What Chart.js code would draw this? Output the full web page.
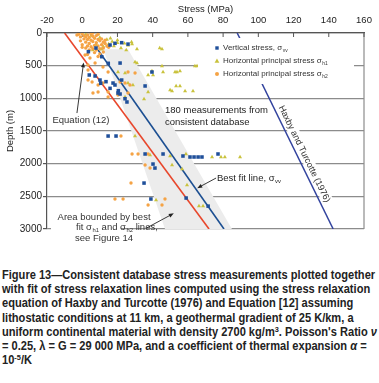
<!DOCTYPE html>
<html>
<head>
<meta charset="utf-8">
<script src="https://cdn.jsdelivr.net/npm/chart.js@4.4.0/dist/chart.umd.min.js"></script>
<style>
html{overflow:hidden;width:379px}
body{margin:0;background:#fff;width:379px;height:383px;overflow:hidden;position:relative;font-family:"Liberation Sans",Arial,sans-serif}
#wrap{position:relative;width:379px;height:265px}
#capbox{position:absolute;left:0;top:268px;width:379px;height:115px;overflow:hidden}
#caption{position:absolute;left:2px;top:0;font-weight:bold;font-size:12px;line-height:14.2px;color:#222;transform-origin:0 0;white-space:nowrap}
#caption sup{font-size:8px;line-height:0;vertical-align:4px}
</style>
</head>
<body>
<div id="wrap"><canvas id="stress_chart" width="379" height="265"></canvas></div>
<div id="capbox">
<div id="caption">
<div><span>Figure 13—Consistent database stress measurements plotted together</span></div>
<div>with fit of stress relaxation lines computed using the stress relaxation</div>
<div>equation of Haxby and Turcotte (1976) and Equation [12] assuming</div>
<div>lithostatic conditions at 11 km, a geothermal gradient of 25 K/km, a</div>
<div>uniform continental material with density 2700 kg/m<sup>3</sup>. Poisson's Ratio <i>ν</i></div>
<div>= 0.25, λ = G = 29 000 MPa, and a coefficient of thermal expansion <i>α</i> =</div>
<div>10<sup>-5</sup>/K</div>
</div>
</div>
<script>
// axis ranges and ticks
var stressTicks = [-20, 0, 20, 40, 60, 80, 100, 120, 140, 160];
var depthTicks = [0, 500, 1000, 1500, 2000, 2500, 3000];

// vertical stress measurements (MPa, m)
var vertStress = [18.6, 22.4, 26, 15.8, 7.8, 3.5, 11.1, 14.8, 21.5, 4.0, 7.3, 10.1, 13.5, 10.5, 15.8, 18.6, 20.5, 21.5, 24.3, 22.4, 17.5, 20.3, 25.4, 39.6, 35.7,
                  14.7, 19.2, 35.7, 45.9, 57.2, 61.2, 63.5, 65.8, 68, 77.1, 40.2, 41.3, 35.1, 59, 71.5, 39];
var vertDepth = [158, 148, 170, 184, 230, 286, 363, 464, 460, 643, 658, 720, 745, 770, 847, 796, 883, 934, 1006, 720, 766, 919, 1056, 597, 811,
                 1577, 1577, 1852, 1852, 1883, 1898, 1898, 1898, 1898, 1852, 2006, 2067, 2297, 2526, 2650, 2541];

// horizontal principal stress sigma h1
var h1Stress = [2, 5, 10, 14, 17, 20, 24, 18, 22, 26, 15, 12, 8, 20, 16, 28, 11, 6, 25,
                28.3, 31.1, 45.3, 44, 30, 45.3, 65.2, 64, 31.1, 39.6, 45.9, 52.7, 53.8, 55.5, 37.4, 40.2, 20.3, 24.3, 26, 28.8, 24.3,
                37.4, 51, 53.3, 55.5, 58.4, 62.9, 49.9, 35.1, 30, 38.5, 49.9, 58.9, 73.7, 78.8, 81, 89.6, 51, 56.7, 59.5, 66.3, 68.6, 41.9];
var h1Depth = [20, 40, 70, 100, 130, 150, 160, 200, 230, 190, 170, 210, 180, 110, 80, 140, 250, 260, 260,
               168, 245, 245, 230, 444, 505, 505, 505, 459, 582, 597, 597, 597, 582, 643, 643, 597, 612, 766, 796, 980,
               903, 888, 811, 811, 888, 888, 873, 1010, 1577, 1868, 1883, 1852, 1898, 1898, 1898, 1898, 2021, 2082, 2327, 2649, 2649, 2557];

// horizontal principal stress sigma h2
var h2Stress = [-2, 0, 1, 3, 5, 2, 4, 6, 8, 7, 9, 3, 5, 1, -1, -3, 10, 12, 8, 6, 4, 2, 11, 9, 7, 5, 13, 14, 12, 10, 6, 3, 0, 8, 4, 15, -1, 2, 11, 13, 6, 9, 0, 7, 3, 10, 12,
                1.6, 4.4, 9, 3.3, 7.3, 11.8, 3.3, 14.7, 26, 30, 3.3, 5.6, 9, 11.8, 21.5, 24.3, 27.1, 6.1, 9, 14.7, 20.3, 26, 14.7, 76.5,
                22, 28.3, 31.7, 37.4, 35.7, 38.5, 27.7, 18.6, 23.2, 47, 37.4, 45.3];
var h2Depth = [20, 10, 40, 30, 15, 60, 70, 50, 40, 80, 100, 100, 110, 90, 60, 30, 120, 140, 150, 130, 160, 140, 180, 200, 190, 210, 160, 200, 230, 240, 240, 200, 180, 260, 260, 220, 120, 230, 90, 110, 0, 20, 220, 300, 330, 320, 290,
               337, 383, 360, 490, 459, 520, 566, 597, 597, 612, 720, 750, 796, 766, 750, 766, 796, 919, 903, 903, 950, 919, 980, 612,
               1577, 1852, 1852, 1852, 2021, 2067, 2297, 2541, 2541, 2541, 2633, 2633];

// relaxation lines
var eq12Stress = [-10, 72];
var eq12Depth = [0, 3000];
var bestFitStress = [9, 80.5];
var bestFitDepth = [260, 3000];
var haxbyStress = [88, 142.5];
var haxbyDepth = [0, 3000];

// area bounded by best fit sigma h1 / h2 lines
var bandStress = [12, 26, 85, 47, 12];
var bandDepth = [250, 250, 3000, 3000, 250];

function pairs(xs, ys) {
    return xs.map(function (v, i) { return {x: v, y: ys[i]}; });
}

var textColor = '#333';
var fontName = '"Liberation Sans", Arial, sans-serif';

function arrow(c, x1, y1, x2, y2) {
    var a = Math.atan2(y2 - y1, x2 - x1);
    c.strokeStyle = '#222';
    c.fillStyle = '#222';
    c.lineWidth = 0.9;
    c.beginPath();
    c.moveTo(x1, y1);
    c.lineTo(x2 - 3 * Math.cos(a), y2 - 3 * Math.sin(a));
    c.stroke();
    c.beginPath();
    c.moveTo(x2, y2);
    c.lineTo(x2 - 5 * Math.cos(a) + 2 * Math.sin(a), y2 - 5 * Math.sin(a) - 2 * Math.cos(a));
    c.lineTo(x2 - 5 * Math.cos(a) - 2 * Math.sin(a), y2 - 5 * Math.sin(a) + 2 * Math.cos(a));
    c.closePath();
    c.fill();
}

// text followed by a subscript, returns end x
function subText(c, x, y, main, sub, size) {
    c.font = size + 'px ' + fontName;
    c.fillText(main, x, y);
    var w = c.measureText(main).width;
    c.font = (size * 0.62) + 'px ' + fontName;
    c.fillText(sub, x + w + 0.5, y + size * 0.3);
    return x + w + 0.5 + c.measureText(sub).width;
}

var decor = {
    id: 'decor',
    beforeDatasetsDraw: function (chart) {
        var c = chart.ctx, a = chart.chartArea;
        var xs = chart.scales.x, ys = chart.scales.y;
        c.save();
        // right border
        c.strokeStyle = '#8c8c8c';
        c.lineWidth = 1.2;
        c.beginPath();
        c.moveTo(a.right, a.top);
        c.lineTo(a.right, a.bottom);
        c.stroke();
        // inner ticks on stress axis
        c.strokeStyle = '#555';
        c.lineWidth = 1;
        stressTicks.forEach(function (v) {
            var x = xs.getPixelForValue(v);
            c.beginPath();
            c.moveTo(x, a.top);
            c.lineTo(x, a.top + 4);
            c.stroke();
        });
        // white box behind the "Area bounded" note
        c.fillStyle = '#fff';
        c.fillRect(a.left + 4, ys.getPixelForValue(2700), xs.getPixelForValue(22) - a.left - 4, 40);
        // Haxby and Turcotte label along its line
        var x0 = xs.getPixelForValue(haxbyStress[0]), y0 = ys.getPixelForValue(haxbyDepth[0]);
        var x1 = xs.getPixelForValue(haxbyStress[1]), y1 = ys.getPixelForValue(haxbyDepth[1]);
        var ang = Math.atan2(y1 - y0, x1 - x0);
        var f = 0.633;
        c.translate(x0 + (x1 - x0) * f, y0 + (y1 - y0) * f);
        c.rotate(ang);
        c.font = '9px ' + fontName;
        var label = 'Haxby and Turcotte (1976)';
        var w = c.measureText(label).width;
        c.fillStyle = '#fff';
        c.fillRect(-w / 2 - 2, -13, w + 4, 11);
        c.fillStyle = textColor;
        c.textAlign = 'center';
        c.textBaseline = 'middle';
        c.fillText(label, 0, -7);
        c.restore();
    },
    afterDatasetsDraw: function (chart) {
        var c = chart.ctx, a = chart.chartArea;
        var xs = chart.scales.x, ys = chart.scales.y;
        function px(v) { return xs.getPixelForValue(v); }
        function py(v) { return ys.getPixelForValue(v); }
        c.save();
        c.fillStyle = textColor;
        c.textBaseline = 'middle';

        // Equation (12)
        c.font = '9.5px ' + fontName;
        c.textAlign = 'center';
        c.fillText('Equation (12)', px(-0.7), py(1340));
        arrow(c, px(-3), py(1225), px(0.8), py(450));

        // 180 measurements
        c.font = '9.5px ' + fontName;
        c.textAlign = 'left';
        c.fillText('180 measurements from', px(47), py(1180));
        c.fillText('consistent database', px(47), py(1365));

        // best fit line
        c.textAlign = 'left';
        subText(c, px(76.5), py(2220), 'Best fit line, σ', 'vv', 9.5);
        arrow(c, px(76), py(2220), px(65.3), py(2375));

        // area bounded
        c.fillStyle = textColor;
        c.font = '9.5px ' + fontName;
        c.textAlign = 'center';
        c.fillText('Area bounded by best', px(12.4), py(2817));
        c.textAlign = 'left';
        var sx = px(-3.5), sy = py(2975);
        var e = subText(c, sx, sy, 'fit σ', 'h1', 9.5);
        e = subText(c, e, sy, ' and σ', 'h2', 9.5);
        c.font = '9.5px ' + fontName;
        c.fillText(' lines,', e, sy);
        c.textAlign = 'center';
        c.fillText('see Figure 14', px(12.4), py(3140));
        arrow(c, px(36.5), py(2985), px(52), py(2760));

        // legend box
        var lx = a.right - 166, ly = a.top + 5;
        c.fillStyle = '#fff';
        c.fillRect(lx, ly, 156, 46);
        var mx = lx + 19, tx = lx + 25;
        var rows = [ly + 10, ly + 23, ly + 36];
        c.fillStyle = '#1f4f9a';
        c.fillRect(mx - 1.7, rows[0] - 1.7, 3.4, 3.4);
        c.fillStyle = '#c9c23c';
        c.beginPath();
        c.moveTo(mx, rows[1] - 2.4);
        c.lineTo(mx + 2.4, rows[1] + 1.8);
        c.lineTo(mx - 2.4, rows[1] + 1.8);
        c.closePath();
        c.fill();
        c.fillStyle = '#f5a345';
        c.beginPath();
        c.arc(mx, rows[2], 2, 0, Math.PI * 2);
        c.fill();
        c.fillStyle = textColor;
        c.textAlign = 'left';
        subText(c, tx, rows[0], 'Vertical stress, σ', 'vv', 8);
        subText(c, tx, rows[1], 'Horizontal principal stress σ', 'h1', 8);
        subText(c, tx, rows[2], 'Horizontal principal stress σ', 'h2', 8);
        c.restore();
    }
};

var tickFont = {family: fontName, size: 9.5};

function useTicks(list) {
    return function (scale) {
        scale.ticks = list.map(function (v) { return {value: v}; });
    };
}

var ctx = document.getElementById('stress_chart');
var stressChart = new Chart(ctx, {
    type: 'scatter',
    data: {
        datasets: [{
            label: 'band',
            data: pairs(bandStress, bandDepth),
            showLine: true,
            fill: 'shape',
            backgroundColor: '#ececec',
            borderColor: 'rgba(0,0,0,0)',
            borderWidth: 0,
            pointRadius: 0,
            order: 10,
        }, {
            label: 'Equation (12)',
            data: pairs(eq12Stress, eq12Depth),
            showLine: true,
            borderColor: '#e8472c',
            borderWidth: 1.6,
            pointRadius: 0,
            order: 6,
        }, {
            label: 'Best fit line',
            data: pairs(bestFitStress, bestFitDepth),
            showLine: true,
            borderColor: '#1c4f92',
            borderWidth: 1.6,
            pointRadius: 0,
            order: 5,
        }, {
            label: 'Haxby and Turcotte (1976)',
            data: pairs(haxbyStress, haxbyDepth),
            showLine: true,
            borderColor: '#32439e',
            borderWidth: 1.5,
            pointRadius: 0,
            order: 5,
        }, {
            label: 'Horizontal principal stress h1',
            data: pairs(h1Stress, h1Depth),
            pointStyle: 'triangle',
            pointRadius: 2.3,
            backgroundColor: '#c9c23c',
            borderWidth: 0,
            order: 3,
        }, {
            label: 'Horizontal principal stress h2',
            data: pairs(h2Stress, h2Depth),
            pointStyle: 'circle',
            pointRadius: 1.7,
            backgroundColor: '#f5a345',
            borderWidth: 0,
            order: 2,
        }, {
            label: 'Vertical stress',
            data: pairs(vertStress, vertDepth),
            pointStyle: 'rect',
            pointRadius: 2.5,
            backgroundColor: '#1f4f9a',
            borderWidth: 0,
            order: 1,
        }]
    },
    options: {
        responsive: false,
        animation: false,
        layout: {padding: {left: 0, right: 15, top: 0, bottom: 36}},
        plugins: {legend: {display: false}, tooltip: {enabled: false}},
        scales: {
            x: {
                type: 'linear',
                position: 'top',
                min: stressTicks[0],
                max: stressTicks[stressTicks.length - 1],
                afterBuildTicks: useTicks(stressTicks),
                ticks: {autoSkip: false, maxRotation: 0, font: tickFont, color: '#222', padding: 7,
                        callback: function (v) { return String(v); }},
                grid: {display: false, drawTicks: false},
                border: {display: true, color: '#555', width: 1.2},
                title: {display: true, text: 'Stress (MPa)', font: tickFont, color: '#222', padding: {top: 4, bottom: 2}},
                afterFit: function (s) { s.height = 33; }
            },
            y: {
                type: 'linear',
                reverse: true,
                min: depthTicks[0],
                max: depthTicks[depthTicks.length - 1],
                afterBuildTicks: useTicks(depthTicks),
                ticks: {autoSkip: false, font: {family: fontName, size: 10}, color: '#222', padding: 1,
                        callback: function (v) { return String(v); }},
                grid: {color: '#8c8c8c', lineWidth: 1.2, tickLength: 4, tickColor: '#555'},
                border: {display: true, color: '#555', width: 1.2},
                title: {display: true, text: 'Depth (m)', font: tickFont, color: '#222', padding: {top: 5, bottom: 0}},
                afterFit: function (s) { s.width = 47; }
            }
        }
    },
    plugins: [decor]
});

// fit caption width to the figure
var cap = document.getElementById('caption');
var first = cap.querySelector('span');
var k = 373 / first.offsetWidth;
cap.style.transform = 'scaleX(' + k + ')';
</script>
</body>
</html>
